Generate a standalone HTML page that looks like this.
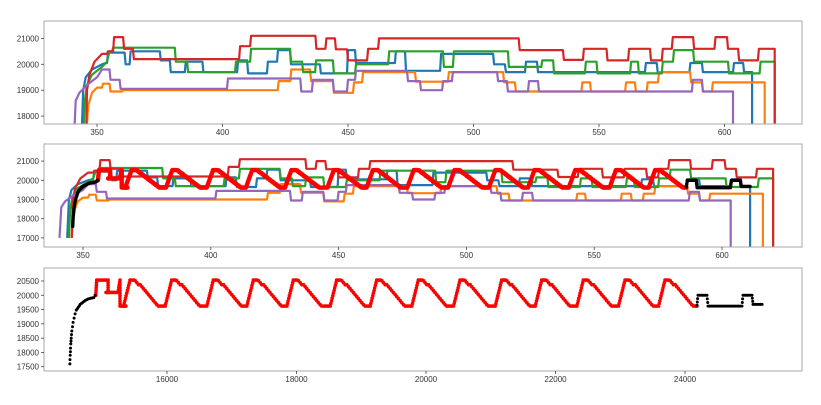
<!DOCTYPE html>
<html><head><meta charset="utf-8"><style>
html,body{margin:0;padding:0;background:#fff;}
svg{display:block;font-family:"Liberation Sans",sans-serif;}
</style></head><body>
<svg id="chart" width="821" height="405" viewBox="0 0 821 405">
<defs>
<clipPath id="c1"><rect x="44" y="21" width="758" height="103"/></clipPath>
<clipPath id="c2"><rect x="44" y="144" width="758" height="103"/></clipPath>
<clipPath id="c3"><rect x="44" y="268" width="758" height="103"/></clipPath>
</defs>
<g id="p1"></g>
<g id="p2"></g>
<g id="p3"></g>
</svg>
<script>
// ---------- data: step series (time, value) ----------
const blueRiseT=[343.8,344.5,345.5,348,352,353.5];
const blueRiseV=[17000,19000,19500,19800,20000,20050];
const blueStepT=[354,361,363,375,379,385,392,405.8,409.8,417.7,421.7,426.9,438.8,449.6,452.8,468.7,472.7,486.7,507.8,512.5,520.5,525.3,568.3,573,586,591,603.4,607.4];
const blueStepV=[20450,20000,20500,20150,19700,20100,19700,20150,19650,20100,20550,20000,19650,20550,20050,20500,19750,20400,20000,19700,20100,19700,20050,19700,20050,19700,20050,19700];
const blueEnd=611;

const orangeRiseT=[345.5,346.5,348,350];
const orangeRiseV=[17000,18400,18900,19100];
const orangeStepT=[352,355,360,422,427,434.9,444,452,455.6,472,476.7,489.8,511.8,516.5,543,546.4,560.4,564.3,569,573.5,586.3,591,595];
const orangeStepV=[19250,18950,19000,19350,19800,19350,18900,19300,19700,19700,19330,19700,19300,18950,19300,18950,19300,18950,19300,19700,19300,18950,19300];
const orangeEnd=616;

const greenRiseT=[344.5,345,346,348,352,354,355];
const greenRiseV=[17000,18500,19200,19600,19900,20100,20500];
const greenStepT=[356,381,385.9,405,411,426.9,431.7,436.9,444,452.8,466,487.8,491.8,513.7,527,531.7,544.4,549,562.4,565.5,575,579.5,587.5,601.4,614];
const greenStepV=[20640,20100,19700,20100,20600,20100,19700,20150,19650,20000,20500,19900,20500,19900,20150,19650,20100,19650,20100,19650,20100,20550,20100,19650,20100];
const greenEnd=620;

const redRiseT=[345.6,346,347,349,352];
const redRiseV=[17000,19000,19600,20100,20400];
const redStepT=[354,356.4,360.4,364.3,406.6,411,437,441,444.8,449.6,457.6,462,518,535.6,543.6,553,561.6,570.3,575,579,587.5,596,601,605.4,613.3];
const redStepV=[20500,21050,20600,20200,20700,21100,20600,21000,20580,20150,20600,21000,20550,20170,20600,20150,20600,20150,20600,21050,20600,21050,20600,20150,20600];
const redEnd=620;

const purpleRiseT=[340.8,341.5,343,346,350,352];
const purpleRiseV=[17000,18600,18900,19200,19500,19800];
const purpleStepT=[355,359,401.8,431,435.6,444,449.6,452.8,473.5,478.7,487.5,491.4,509.4,513.3,521.7,525.7,587,591];
const purpleStepV=[19400,19050,19450,18950,19400,18950,19400,19750,19350,19000,19350,19700,19350,18950,19350,18950,19400,18950];
const purpleEnd=603.4;

// ---------- data: dot series (sample index, value) ----------
const toothPeaks=[15429,16072,16715,17333,17951,18620,19238,19881,20525,21169,21787,22430,23073,23691];
const toothTop=20530, toothBottom=19620;
const redPreIdx=[14900,14914,15090,15090,15058,15243,15274,15274,15365];
const redPreVal=[20000,20530,20530,20100,20100,20100,20530,19620,19620];
const redPostIdx=[24185];
const redPostVal=[19620];
const blackStartIdx=[14500,14505,14510,14515,14520,14530,14540,14550,14565,14580,14600,14630,14660,14700,14740,14780,14830,14870,14890];
const blackStartVal=[17600,17900,18150,18300,18500,18750,18900,19050,19200,19350,19480,19580,19680,19750,19820,19870,19900,19920,20000];
const blackEndIdx=[24185,24200,24340,24355,24880,24895,25035,25050,25190];
const blackEndVal=[19650,20000,20000,19620,19620,20000,20000,19680,19680];

// ---------- axes ----------
const SVGNS="http://www.w3.org/2000/svg";
const P=[
 {g:'p1',clip:'c1',x:v=>97+(v-350)*2.51,y:v=>64.3-(v-20000)*0.0259,xt:[350,400,450,500,550,600],yt:[18000,19000,20000,21000],top:21},
 {g:'p2',clip:'c2',x:v=>83+(v-350)*2.556,y:v=>180.3-(v-20000)*0.0192,xt:[350,400,450,500,550,600],yt:[17000,18000,19000,20000,21000],top:144},
 {g:'p3',clip:'c3',x:v=>167+(v-16000)*0.06475,y:v=>281-(v-20500)*0.02857,xt:[16000,18000,20000,22000,24000],yt:[17500,18000,18500,19000,19500,20000,20500],top:268}
];
function mk(tag,attrs,parent){const e=document.createElementNS(SVGNS,tag);for(const k in attrs)e.setAttribute(k,attrs[k]);parent.appendChild(e);return e;}
const idxToTime=i=>369+(i-15429)*0.02479;

function drawAxes(p){
  const g=document.getElementById(p.g);
  const bottom=p.top+103;
  p.xt.forEach(v=>{
    const x=p.x(v);
    const t=mk('line',{x1:x,x2:x,y1:bottom,y2:bottom+3,stroke:'#444','stroke-width':0.8},g);
    
    
    const l=mk('text',{x:x,y:bottom+11,'font-size':8,fill:'#333','text-anchor':'middle'},g);
    l.textContent=v;
    
    
  });
  p.yt.forEach(v=>{
    const y=p.y(v);
    const t=mk('line',{x1:41,x2:44,y1:y,y2:y,stroke:'#444','stroke-width':0.8},g);
    
    
    const l=mk('text',{x:39,y:y+3,'font-size':8,fill:'#333','text-anchor':'end'},g);
    l.textContent=v;
    
    
  });
}
function drawFrame(p){
  const g=document.getElementById(p.g);
  const r=mk('rect',{x:44,y:p.top,width:758,height:103,fill:'none',stroke:'#aaa','stroke-width':1},g);
  
  
}

const SERIES=[
 ['blue-series','#1f77b4',blueRiseT,blueRiseV,blueStepT,blueStepV,blueEnd],
 ['orange-series','#ff7f0e',orangeRiseT,orangeRiseV,orangeStepT,orangeStepV,orangeEnd],
 ['green-series','#2ca02c',greenRiseT,greenRiseV,greenStepT,greenStepV,greenEnd],
 ['red-series','#d62728',redRiseT,redRiseV,redStepT,redStepV,redEnd],
 ['purple-series','#9467bd',purpleRiseT,purpleRiseV,purpleStepT,purpleStepV,purpleEnd]
];
function drawSteps(p){
  const g=document.getElementById(p.g);
  const cg=mk('g',{'clip-path':'url(#'+p.clip+')'},g);
  SERIES.forEach(s=>{
    const [name,color,rT,rV,sT,sV,end]=s;
    let d='M'+p.x(rT[0]).toFixed(1)+','+p.y(rV[0]).toFixed(1);
    for(let i=1;i<rT.length;i++)d+='L'+p.x(rT[i]).toFixed(1)+','+p.y(rV[i]).toFixed(1);
    let prev=rV[rV.length-1];
    for(let i=0;i<sT.length;i++){
      const x=p.x(sT[i]);
      d+='L'+x.toFixed(1)+','+p.y(prev).toFixed(1)+'L'+(x+1).toFixed(1)+','+p.y(sV[i]).toFixed(1);
      prev=sV[i];
    }
    const xe=p.x(end).toFixed(1);
    d+='L'+xe+','+p.y(prev).toFixed(1)+'L'+xe+','+p.y(15000).toFixed(1);
    const path=mk('path',{d:d,fill:'none',stroke:color,'stroke-width':2.2,'stroke-linejoin':'round'},cg);
    
    
  });
}

function redVertices(){
  const v=[];
  for(let i=0;i<redPreIdx.length;i++)v.push([redPreIdx[i],redPreVal[i]]);
  toothPeaks.forEach(pk=>{
    v.push([pk-100,toothBottom]);
    v.push([pk,toothTop]);
    v.push([pk+80,toothTop]);
    v.push([pk+440,toothBottom]);
  });
  for(let i=0;i<redPostIdx.length;i++)v.push([redPostIdx[i],redPostVal[i]]);
  return v;
}
function sampleDots(verts,stepIdx,stepVal){
  const pts=[];
  for(let i=0;i<verts.length-1;i++){
    const [a,av]=verts[i],[b,bv]=verts[i+1];
    const n=Math.max(1,Math.ceil(Math.max(Math.abs(b-a)/stepIdx,Math.abs(bv-av)/stepVal)));
    for(let k=0;k<n;k++){
      const t=k/n;
      let val=av+(bv-av)*t;
      if(b-a>150&&av>bv)val=Math.round(val/70)*70;
      pts.push([a+(b-a)*t,val]);
    }
  }
  pts.push(verts[verts.length-1]);
  return pts;
}
function drawDots(p,mapIdx,rRed,rBlack,name,si,sv){
  const g=document.getElementById(p.g);
  const cg=mk('g',{'clip-path':'url(#'+p.clip+')'},g);
  
  
  const red=sampleDots(redVertices(),si,sv);
  red.forEach(([i,v])=>{
    const c=mk('circle',{cx:p.x(mapIdx(i)).toFixed(1),cy:p.y(v).toFixed(1),r:rRed,fill:'#ff0000'},cg);
    
    
  });
  [[blackStartIdx,blackStartVal],[blackEndIdx,blackEndVal]].forEach(([I,V])=>{
    const verts=I.map((x,k)=>[x,V[k]]);
    const pts=sampleDots(verts,si,sv*1.5);
    pts.forEach(([i,v])=>{
      const c=mk('circle',{cx:p.x(mapIdx(i)).toFixed(1),cy:p.y(v).toFixed(1),r:rBlack,fill:'#000'},cg);
      
      
    });
  });
}

drawSteps(P[0]);
drawSteps(P[1]);
drawDots(P[1],idxToTime,2.2,1.7,'overlay-points',14,60);
drawDots(P[2],i=>i,1.8,1.5,'index-points',26,100);
P.forEach(p=>{drawFrame(p);drawAxes(p);});
</script>
</body></html>
